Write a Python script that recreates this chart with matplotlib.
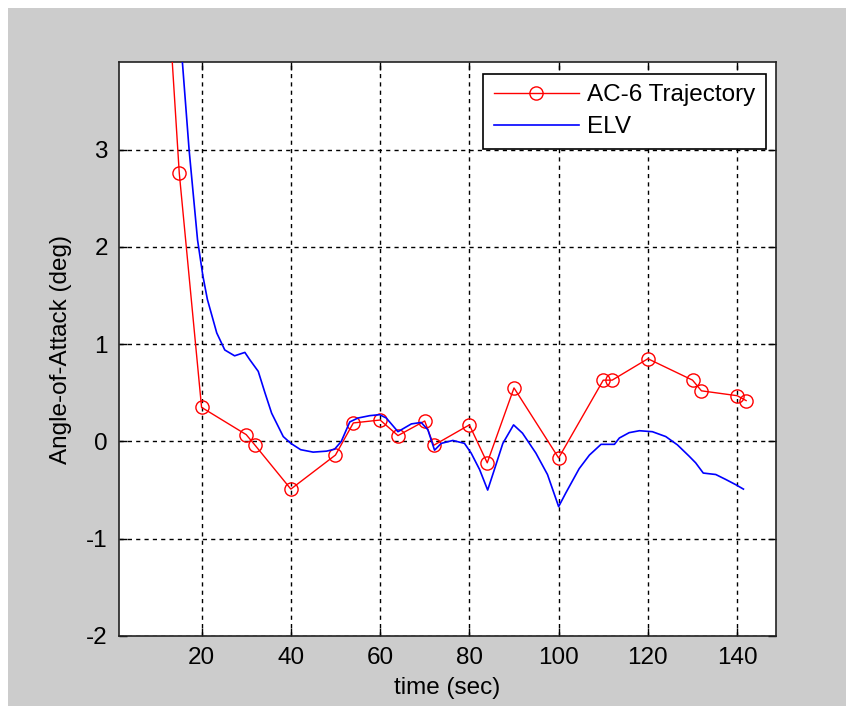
import matplotlib
matplotlib.use("Agg")
import matplotlib.pyplot as plt
from matplotlib.patches import Rectangle

plt.rcParams['font.family'] = ['Liberation Sans', 'DejaVu Sans']
plt.rcParams['axes.unicode_minus'] = False

# AC-6 trajectory (markers)
ac6_t = [10, 15, 20, 30, 32, 40, 50, 54, 60, 64, 70, 72, 80, 84, 90, 100, 110, 112, 120, 130, 132, 140, 142]
ac6_a = [6.4, 2.76, 0.35, 0.07, -0.04, -0.49, -0.14, 0.19, 0.22, 0.06, 0.21, -0.04, 0.17, -0.22, 0.55, -0.17, 0.63, 0.63, 0.85, 0.63, 0.52, 0.47, 0.42]

# ELV
elv_t = [14, 15.7, 17.2, 19.1, 20.3, 21.3, 23.4, 25.2, 27.4, 29.7, 30.8, 32.7, 34.2, 35.7, 38.3, 40,
         42.2, 45, 48, 49.8, 51.3, 53.2, 55, 57.7, 59.9, 61.4, 64, 67, 69.2, 70.7, 72.2, 73.7, 76.3,
         78.9, 80.4, 82.3, 84.1, 85.6, 87.5, 89.9, 91.9, 94.9, 97.5, 100, 101.6, 104.6, 106.9, 109.5,
         112.5, 113.6, 115.8, 118.1, 121, 124, 126.6, 129.2, 130.7, 132.4, 133.3, 135.2, 137.4, 139.7, 141.4]
elv_a = [5.0, 3.9, 3.0, 2.07, 1.7, 1.46, 1.115, 0.94, 0.88, 0.915, 0.84, 0.72, 0.5, 0.29, 0.05, -0.02,
         -0.085, -0.11, -0.1, -0.08, 0.0, 0.2, 0.24, 0.265, 0.275, 0.24, 0.1, 0.18, 0.195, 0.12, -0.09, -0.02, 0.01,
         -0.02, -0.12, -0.29, -0.5, -0.29, -0.02, 0.17, 0.085, -0.12, -0.34, -0.67, -0.53, -0.28, -0.14, -0.03,
         -0.03, 0.035, 0.09, 0.11, 0.1, 0.05, -0.035, -0.15, -0.22, -0.325, -0.33, -0.34, -0.39, -0.445, -0.49]

xticks = [20, 40, 60, 80, 100, 120, 140]
yticks = [-2, -1, 0, 1, 2, 3]

W, H = 846, 706
fig = plt.figure(figsize=(W / 100, H / 100), dpi=100)
fig.patch.set_facecolor('white')
fig.patches.append(Rectangle((8 / W, 0), 1 - 8 / W, 1 - 8 / H, transform=fig.transFigure,
                             facecolor='#cccccc', edgecolor='none', zorder=-10))

L, R, T, B = 119, 776, 62, 636
ax = fig.add_axes([L / W, (H - B) / H, (R - L) / W, (B - T) / H])
ax.set_facecolor('white')

ax.plot(ac6_t, ac6_a, color='red', lw=1.0, marker='o', markersize=9.5,
        markerfacecolor='none', markeredgecolor='red', markeredgewidth=1.0,
        label='AC-6 Trajectory', zorder=3)
ax.plot(elv_t, elv_a, color='blue', lw=1.2, label='ELV', zorder=3)

ax.set_xlim(1.5, 148.7)
ax.set_ylim(-2, 3.9)
ax.set_xticks(xticks)
ax.set_yticks(yticks)
ax.grid(True, color='black', linestyle=(0, (3, 3)), linewidth=1.0)
ax.tick_params(direction='in', length=6, width=1, top=True, right=True,
               labelsize=17.5, colors='black', pad=8)
for s in ax.spines.values():
    s.set_linewidth(1.2)
    s.set_color('#222222')

ax.set_xlabel('time (sec)', fontsize=17.5, labelpad=6)
ax.set_ylabel('Angle-of-Attack (deg)', fontsize=17.5, labelpad=10)

leg = ax.legend(loc='upper right', bbox_to_anchor=((766 - L) / (R - L), (B - 74) / (B - T)),
                borderaxespad=0, fontsize=17.5, fancybox=False, framealpha=1,
                edgecolor='black', handlelength=3.5, handletextpad=0.35,
                labelspacing=0.4, borderpad=0.43)
leg.get_frame().set_linewidth(1.2)

fig.savefig('out.png', dpi=100, facecolor=fig.get_facecolor())
